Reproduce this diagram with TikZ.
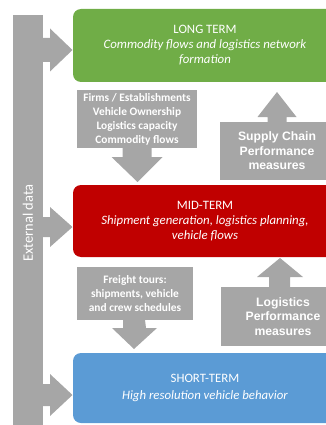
\documentclass[tikz,border=0pt]{standalone}
\usepackage{fontspec}
\setmainfont{Carlito}
\newfontfamily\arialfont{Liberation Sans}
\usetikzlibrary{calc}
\definecolor{ltgreen}{HTML}{70AD47}
\definecolor{ltred}{HTML}{C00000}
\definecolor{ltblue}{HTML}{5B9BD5}
\definecolor{blockgray}{HTML}{A6A6A6}
\begin{document}
\begin{tikzpicture}[x=1pt,y=-1pt,
  every node/.style={inner sep=0pt, outer sep=0pt},
  termbox/.style={rounded corners=8pt, text=white, align=center,
    font=\fontsize{12.8}{15}\selectfont, minimum width=264pt},
  graybox/.style={fill=blockgray, text=white, align=center,
    font=\bfseries\fontsize{11.4}{14}\selectfont},
  perfbox/.style={fill=blockgray, text=white, align=center,
    font=\arialfont\bfseries\fontsize{12.2}{14.5}\selectfont},
  blockarrow/.style={fill=blockgray}]
\useasboundingbox (0,0) rectangle (326,425);
\clip (0,0) rectangle (326,425);

% External data bar
\node[fill=blockgray, minimum width=30pt, minimum height=418pt] (ext) at (28,224) {};
\node[rotate=90, text=white, font=\fontsize{14.5}{16}\selectfont] (extlabel) at (28,223) {External data};

% term boxes
\node[termbox, fill=ltgreen, minimum height=73pt] (long) at (205,45.5)
  {LONG TERM\\\textit{Commodity flows and logistics network}\\\textit{formation}};
\node[termbox, fill=ltred, minimum height=72pt] (mid) at (205,221)
  {MID-TERM\\\textit{Shipment generation, logistics planning,}\\\textit{vehicle flows}};
\node[termbox, fill=ltblue, minimum height=70pt] (short) at (205,388)
  {SHORT-TERM\\[2pt]\textit{High resolution vehicle behavior}};

% gray info boxes
\node[graybox, minimum width=120pt, minimum height=58pt] (firms) at (137,119)
  {Firms / Establishments\\Vehicle Ownership\\Logistics capacity\\Commodity flows};
\node[graybox, minimum width=116pt, minimum height=53pt] (freight) at (135,293.5)
  {Freight tours:\\shipments, vehicle\\and crew schedules};
\node[perfbox, minimum width=114pt, minimum height=58pt] (supply) at (277,151)
  {Supply Chain\\Performance\\measures};
\node[perfbox, minimum width=124pt, minimum height=59pt] (logperf) at (283,316.5)
  {Logistics\\Performance\\measures};

% arrows from external data bar
\fill[blockarrow] (ext.east |- 0,38) -- (50,38) -- (50,28.5) -- ([xshift=-0.5pt]long.west |- 0,50)
  -- (50,71.5) -- (50,62) -- (ext.east |- 0,62) -- cycle;
\fill[blockarrow] (ext.east |- 0,217) -- (50,217) -- (50,207) -- ([xshift=-0.5pt]mid.west |- 0,227)
  -- (50,247) -- (50,237) -- (ext.east |- 0,237) -- cycle;
\fill[blockarrow] (ext.east |- 0,384) -- (50,384) -- (50,374) -- ([xshift=-0.5pt]short.west |- 0,395)
  -- (50,416) -- (50,406) -- (ext.east |- 0,406) -- cycle;

% down arrows
\fill[blockarrow] ([xshift=-14.5pt]firms.south) -- ++(0,9) -- ++(-11,0)
  -- ($(firms.south |- mid.north)+(0.5,-3)$)
  -- ($([xshift=25.5pt]firms.south)+(0,9)$) -- ++(-11,0) -- ([xshift=14.5pt]firms.south) -- cycle;
\fill[blockarrow] ([xshift=-12pt]freight.south) -- ++(0,8) -- ++(-11,0)
  -- ($(freight.south |- short.north)+(-1,-4)$)
  -- ($([xshift=22pt]freight.south)+(0,8)$) -- ++(-11,0) -- ([xshift=10pt]freight.south) -- cycle;

% up arrows
\fill[blockarrow] ([xshift=-9.5pt]supply.north) -- ++(0,-5) -- ++(-10,0)
  -- ($(supply.north |- long.south)+(0,10)$)
  -- ($([xshift=19.5pt]supply.north)+(0,-5)$) -- ++(-10,0) -- ([xshift=9.5pt]supply.north) -- cycle;
\fill[blockarrow] ([xshift=-14pt]logperf.north) -- ++(0,-10) -- ++(-12,0)
  -- ($(logperf.north |- mid.south)+(-3,1)$)
  -- ($([xshift=20pt]logperf.north)+(0,-10)$) -- ++(-13,0) -- ([xshift=7pt]logperf.north) -- cycle;
\end{tikzpicture}
\end{document}
